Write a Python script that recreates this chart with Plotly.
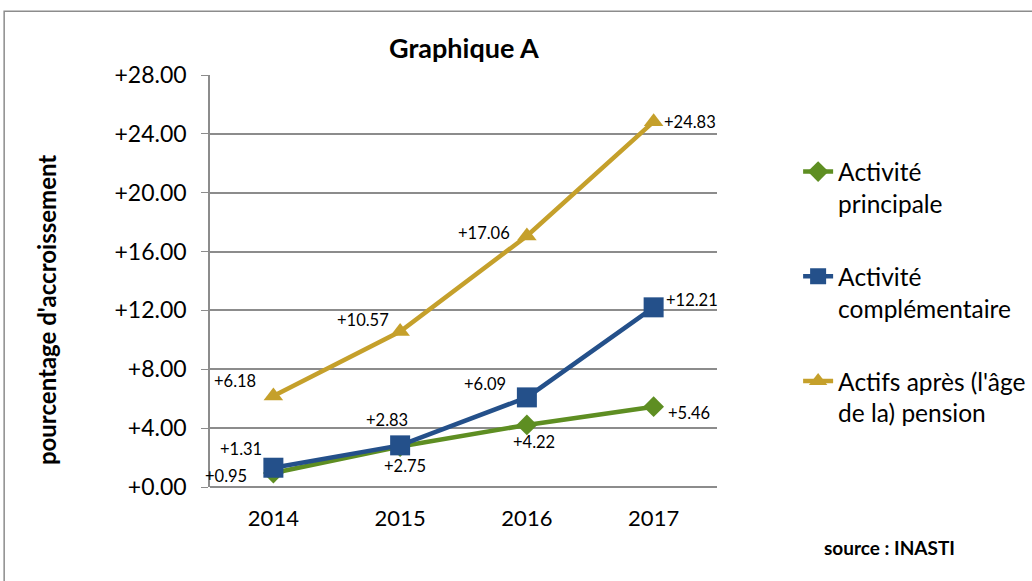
import plotly.graph_objects as go

years = ["2014", "2015", "2016", "2017"]
principale = [0.95, 2.75, 4.22, 5.46]
complementaire = [1.31, 2.83, 6.09, 12.21]
pension = [6.18, 10.57, 17.06, 24.83]
series_names = ["Activité<br>principale", "Activité<br>complémentaire", "Actifs après (l'âge<br>de la) pension"]
y_ticks = [0, 4, 8, 12, 16, 20, 24, 28]
y_ticktext = ["+0.00", "+4.00", "+8.00", "+12.00", "+16.00", "+20.00", "+24.00", "+28.00"]

colors = ["#5E8E22", "#24508A", "#C5A02B"]
symbols = ["diamond", "square", "triangle-up"]
msizes = [16, 20, 17]
# label pixel offsets (dx, dy up-positive)
offsets = [
    [(-47, -3), (5, -19), (7, -17), (35, -6)],
    [(-32, 19), (-13, 25), (-42, 13), (38, 7)],
    [(-38, 15), (-37, 11), (-43, 3), (36, 0)],
]

FONT = "Lato, Carlito, Calibri, sans-serif"
xs = list(range(len(years)))
data = [principale, complementaire, pension]

fig = go.Figure()
for i, vals in enumerate(data):
    fig.add_trace(go.Scatter(
        x=xs, y=vals, mode="lines+markers", name=series_names[i],
        legendgroup=str(i),
        line=dict(color=colors[i], width=4.5),
        marker=dict(symbol=symbols[i], size=msizes[i], color=colors[i]),
    ))

annotations = []
for i, vals in enumerate(data):
    for j, v in enumerate(vals):
        dx, dy = offsets[i][j]
        annotations.append(dict(
            x=xs[j], y=v, xref="x", yref="y", text=f"{v:+.2f}", showarrow=False,
            xanchor="center", yanchor="middle",
            xshift=dx, yshift=dy, font=dict(size=16.5, color="#000000", family=FONT)))

annotations.append(dict(text="<b>Graphique A</b>", x=0.5, y=1.0, xref="paper", yref="paper",
                        xanchor="center", yanchor="middle", yshift=28, showarrow=False,
                        font=dict(size=27, family=FONT, color="#000")))
annotations.append(dict(text="<b>pourcentage d'accroissement</b>", x=-0.321, y=0.43, xref="paper", yref="paper",
                        xanchor="center", yanchor="middle", textangle=-90, showarrow=False,
                        font=dict(size=24, family=FONT, color="#000")))
annotations.append(dict(text="<b>source : INASTI</b>", x=1.341, y=-0.148, xref="paper", yref="paper",
                        xanchor="center", yanchor="middle", showarrow=False,
                        font=dict(size=19, family=FONT, color="#000")))

fig.update_layout(
    width=1032, height=581,
    margin=dict(l=210, r=315, t=75, b=94, autoexpand=False),
    paper_bgcolor="white", plot_bgcolor="white",
    font=dict(family=FONT, color="#000"),
    showlegend=True,
    legend=dict(x=1.16, y=0.82, xanchor="left", yanchor="top", font=dict(size=24.5, family=FONT),
                tracegroupgap=38, valign="top", bgcolor="rgba(0,0,0,0)"),
    annotations=annotations,
    shapes=[dict(type="rect", xref="paper", yref="paper", x0=-0.406, x1=1.63, y0=-0.24, y1=1.155,
                 line=dict(color="#8C8C8C", width=1.5), fillcolor="rgba(0,0,0,0)", layer="below")],
)
fig.update_xaxes(range=[-0.5, 3.5], tickvals=xs, ticktext=years, showgrid=False, zeroline=False,
                 showline=False, ticks="", tickfont=dict(size=22, family=FONT), ticklabelstandoff=16)
fig.update_yaxes(range=[0, 28], tickvals=y_ticks, ticktext=y_ticktext, showgrid=True, gridcolor="#8C8C8C",
                 gridwidth=1.5, zeroline=True, zerolinecolor="#8C8C8C", zerolinewidth=1.5,
                 showline=True, linecolor="#8C8C8C", linewidth=1.5, ticks="outside", ticklen=7,
                 tickcolor="#8C8C8C", tickfont=dict(size=23, family=FONT), ticklabelstandoff=10)

fig.write_html("out.html", config={"displayModeBar": False},
               post_script="document.body.style.margin='0';")
